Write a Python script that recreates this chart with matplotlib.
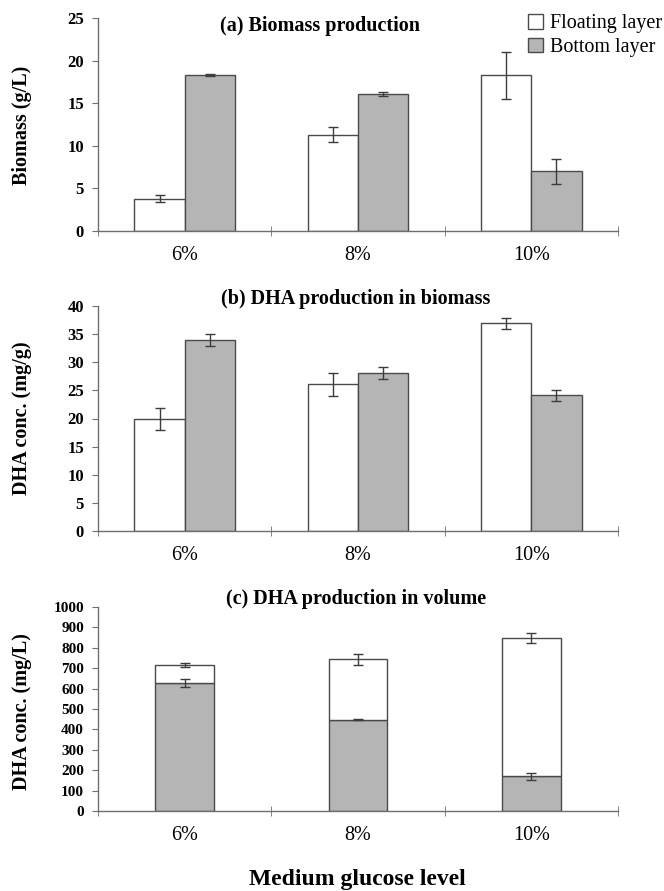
import matplotlib
matplotlib.use("Agg")
import matplotlib.pyplot as plt
import numpy as np
from matplotlib.patches import Patch

plt.rcParams['font.family'] = ['Liberation Serif', 'DejaVu Serif']

categories = ["6%", "8%", "10%"]
series_names = ["Floating layer", "Bottom layer"]

# (a) Biomass (g/L)
biomass_float = [3.8, 11.3, 18.3]
biomass_float_err = [0.4, 0.85, 2.75]
biomass_bottom = [18.3, 16.1, 7.0]
biomass_bottom_err = [0.1, 0.25, 1.5]

# (b) DHA conc. (mg/g)
dha_float = [19.9, 26.1, 36.9]
dha_float_err = [1.9, 2.05, 0.95]
dha_bottom = [34.0, 28.1, 24.1]
dha_bottom_err = [1.1, 1.05, 0.9]

# (c) DHA conc. (mg/L), stacked: bottom + floating
vol_bottom = [628, 448, 170]
vol_bottom_err = [20, 4, 17]
vol_float = [88, 297, 678]
vol_total_err = [10, 27, 26]

titles = ["(a) Biomass production", "(b) DHA production in biomass",
          "(c) DHA production in volume"]
ylabels = ["Biomass (g/L)", "DHA conc. (mg/g)", "DHA conc. (mg/L)"]
xlabel = "Medium glucose level"

W, H = 664, 891
fig = plt.figure(figsize=(W / 100, H / 100), dpi=100)

def ax_rect(left, right, top, bottom):
    return [left / W, 1 - bottom / H, (right - left) / W, (bottom - top) / H]

axA = fig.add_axes(ax_rect(98, 618, 18, 231))
axB = fig.add_axes(ax_rect(98, 618, 306, 531))
axC = fig.add_axes(ax_rect(98, 618, 607, 811))

axis_col = "#6e6e6e"
bar_gray = "#b5b5b5"
edge_col = "#4a4a4a"
err_col = "#3c3c3c"
x = np.arange(len(categories))

def style(ax, ymax, step, ysize=12):
    ax.set_xlim(-0.5, len(categories) - 0.5)
    ax.set_ylim(0, ymax)
    ax.set_yticks(np.arange(0, ymax + step / 2, step))
    for s in ["top", "right"]:
        ax.spines[s].set_visible(False)
    for s in ["left", "bottom"]:
        ax.spines[s].set_color(axis_col)
        ax.spines[s].set_linewidth(1.0)
    ax.set_xticks(x)
    ax.set_xticklabels(categories, fontsize=14.5)
    ax.tick_params(axis="x", length=0, pad=11)
    ax.set_xticks(np.arange(-0.5, len(categories) + 0.5, 1.0), minor=True)
    ax.tick_params(axis="x", which="minor", direction="inout", length=7,
                   color=axis_col)
    ax.tick_params(axis="y", direction="out", length=4, color=axis_col,
                   labelsize=ysize, pad=6)
    for lab in ax.get_yticklabels():
        lab.set_fontweight("bold")

w = 0.29
ekw = dict(ecolor=err_col, elinewidth=1.0, capsize=3.5, capthick=1.0, fmt="none")

# (a)
axA.bar(x - w / 2, biomass_float, w, color="white", edgecolor=edge_col, linewidth=1.0)
axA.bar(x + w / 2, biomass_bottom, w, color=bar_gray, edgecolor=edge_col, linewidth=1.0)
axA.errorbar(x - w / 2, biomass_float, yerr=biomass_float_err, **ekw)
axA.errorbar(x + w / 2, biomass_bottom, yerr=biomass_bottom_err, **ekw)
style(axA, 25, 5)

# (b)
axB.bar(x - w / 2, dha_float, w, color="white", edgecolor=edge_col, linewidth=1.0)
axB.bar(x + w / 2, dha_bottom, w, color=bar_gray, edgecolor=edge_col, linewidth=1.0)
axB.errorbar(x - w / 2, dha_float, yerr=dha_float_err, **ekw)
axB.errorbar(x + w / 2, dha_bottom, yerr=dha_bottom_err, **ekw)
style(axB, 40, 5)

# (c)
wc = 0.34
axC.bar(x, vol_bottom, wc, color=bar_gray, edgecolor=edge_col, linewidth=1.0)
axC.bar(x, vol_float, wc, bottom=vol_bottom, color="white", edgecolor=edge_col,
        linewidth=1.0)
totals = np.array(vol_bottom) + np.array(vol_float)
axC.errorbar(x, vol_bottom, yerr=vol_bottom_err, **ekw)
axC.errorbar(x, totals, yerr=vol_total_err, **ekw)
style(axC, 1000, 100, ysize=11)

# titles
fig.text(320 / W, 1 - 26 / H, titles[0], ha="center", va="center",
         fontsize=14.5, fontweight="bold")
fig.text(356 / W, 1 - 299 / H, titles[1], ha="center", va="center",
         fontsize=14.5, fontweight="bold")
fig.text(356 / W, 1 - 599 / H, titles[2], ha="center", va="center",
         fontsize=14.5, fontweight="bold")

# y labels
for lab, yc in [(ylabels[0], 125), (ylabels[1], 418), (ylabels[2], 712)]:
    fig.text(22 / W, 1 - yc / H, lab, rotation=90, ha="center", va="center",
             fontsize=14.5, fontweight="bold")

fig.text(357 / W, 1 - 880 / H, xlabel, ha="center", va="center",
         fontsize=17, fontweight="bold")

# legend
handles = [Patch(facecolor="white", edgecolor=edge_col, linewidth=1.0),
           Patch(facecolor=bar_gray, edgecolor=edge_col, linewidth=1.0)]
fig.legend(handles, series_names, loc="upper right", bbox_to_anchor=(1.018, 1.0),
           frameon=False, fontsize=14.5, handlelength=0.75, handleheight=0.75,
           handletextpad=0.35, labelspacing=0.2, borderaxespad=0.3)

fig.savefig("out.png", dpi=100, facecolor="white")
